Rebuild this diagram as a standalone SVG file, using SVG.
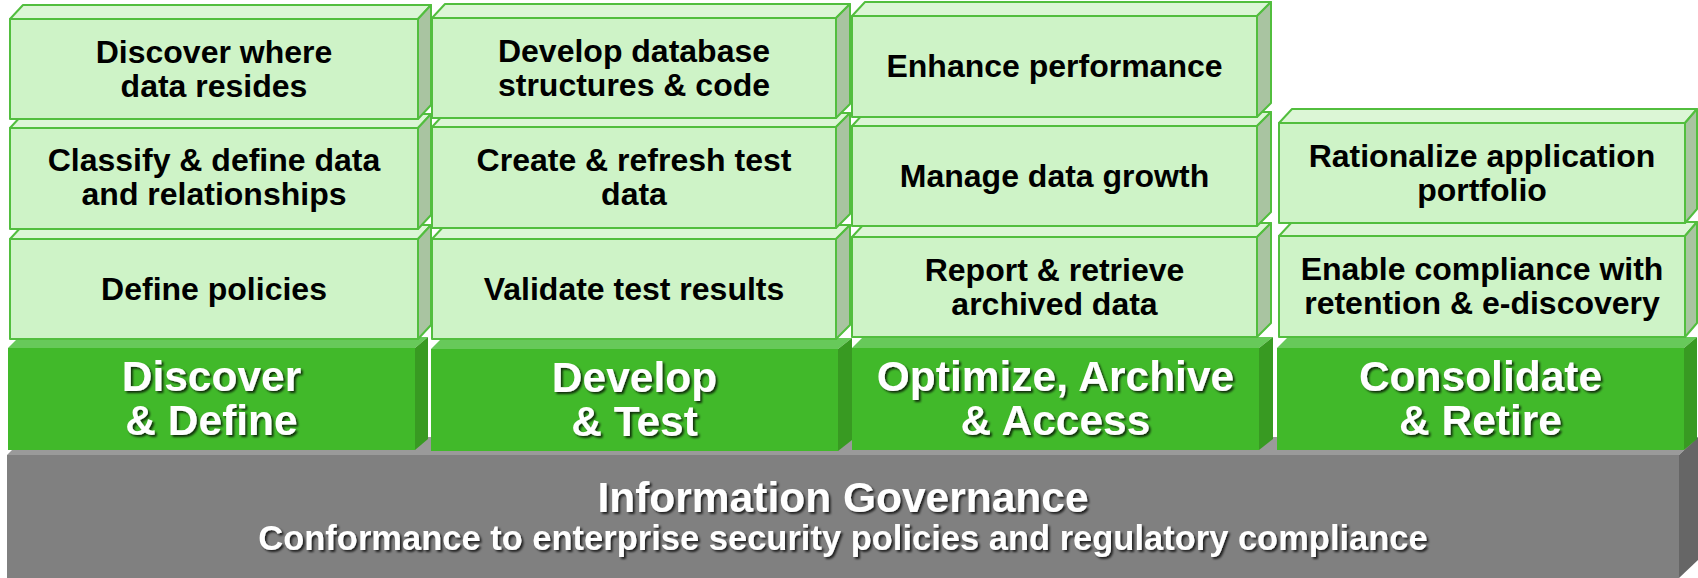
<svg xmlns="http://www.w3.org/2000/svg" width="1698" height="578" viewBox="0 0 1698 578">
<defs>
<filter id="sh" x="-5%" y="-30%" width="112%" height="170%">
<feDropShadow dx="2" dy="2" stdDeviation="1.2" flood-color="#000" flood-opacity="0.75"/>
</filter>
<style>
.lf{fill:#cef3c7;stroke:#52be3e;stroke-width:2;stroke-linejoin:round}
.lt{fill:#dcf6d6;stroke:#52be3e;stroke-width:2;stroke-linejoin:round}
.ls{fill:#a9c4a1;stroke:#52be3e;stroke-width:2;stroke-linejoin:round}
.gf{fill:#41b92a}
.gt{fill:#67c95a}
.gs{fill:#389a22}
.bf{fill:#808080}
.bt{fill:#9a9a9a}
.bs{fill:#666666}
.t{font-family:"Liberation Sans",Arial,sans-serif;font-weight:bold;font-size:32px;fill:#000;text-anchor:middle}
.h{font-family:"Liberation Sans",Arial,sans-serif;font-weight:bold;font-size:42.5px;fill:#fff;text-anchor:middle;filter:url(#sh)}
.s{font-family:"Liberation Sans",Arial,sans-serif;font-weight:bold;font-size:34.5px;fill:#fff;text-anchor:middle;filter:url(#sh)}
</style>
</defs>
<rect width="1698" height="578" fill="#fff"/>

<g id="base">
<polygon class="bt" points="7,455 25,437 1698,437 1679,455"/>
<polygon class="bs" points="1679,455 1698,437 1698,560 1679,578"/>
<rect class="bf" x="7" y="455" width="1672" height="123"/>
<text class="h" x="843" y="512" font-size="43.5">Information Governance</text>
<text class="s" x="843" y="550">Conformance to enterprise security policies and regulatory compliance</text>
</g>

<g id="col1">
<g id="discover-define">
<polygon class="gt" points="8,348 19,337 428,337 415,348"/>
<polygon class="gs" points="415,348 428,337 428,439 415,450"/>
<rect class="gf" x="8" y="348" width="407" height="102"/>
<text class="h" x="211.5" y="391">Discover</text>
<text class="h" x="211.5" y="435">&amp; Define</text>
</g>
<g id="define-policies">
<polygon class="lt" points="10,239 23,225 431,225 418,239"/>
<polygon class="ls" points="418,239 431,225 431,325 418,339"/>
<rect class="lf" x="10" y="239" width="408" height="100"/>
<text class="t" x="214" y="299.5">Define policies</text>
</g>
<g id="classify">
<polygon class="lt" points="10,128 23,114 431,114 418,128"/>
<polygon class="ls" points="418,128 431,114 431,215 418,229"/>
<rect class="lf" x="10" y="128" width="408" height="101"/>
<text class="t" x="214" y="171">Classify &amp; define data</text>
<text class="t" x="214" y="205">and relationships</text>
</g>
<g id="discover-where">
<polygon class="lt" points="10,19 23,5 431,5 418,19"/>
<polygon class="ls" points="418,19 431,5 431,105 418,119"/>
<rect class="lf" x="10" y="19" width="408" height="100"/>
<text class="t" x="214" y="62.5">Discover where</text>
<text class="t" x="214" y="96.5">data resides</text>
</g>
</g>

<g id="col2">
<g id="develop-test">
<polygon class="gt" points="431,349 442,338 852,338 838,349"/>
<polygon class="gs" points="838,349 852,338 852,440 838,451"/>
<rect class="gf" x="431" y="349" width="407" height="102"/>
<text class="h" x="634.5" y="392">Develop</text>
<text class="h" x="634.5" y="436">&amp; Test</text>
</g>
<g id="validate">
<polygon class="lt" points="432,239 445,225 850,225 836,239"/>
<polygon class="ls" points="836,239 850,225 850,325 836,339"/>
<rect class="lf" x="432" y="239" width="404" height="100"/>
<text class="t" x="634" y="299.5">Validate test results</text>
</g>
<g id="create-refresh">
<polygon class="lt" points="432,127 445,113 850,113 836,127"/>
<polygon class="ls" points="836,127 850,113 850,214 836,228"/>
<rect class="lf" x="432" y="127" width="404" height="101"/>
<text class="t" x="634" y="171">Create &amp; refresh test</text>
<text class="t" x="634" y="205">data</text>
</g>
<g id="develop-db">
<polygon class="lt" points="432,18 445,4 850,4 836,18"/>
<polygon class="ls" points="836,18 850,4 850,104 836,118"/>
<rect class="lf" x="432" y="18" width="404" height="100"/>
<text class="t" x="634" y="61.5">Develop database</text>
<text class="t" x="634" y="95.5">structures &amp; code</text>
</g>
</g>

<g id="col3">
<g id="optimize">
<polygon class="gt" points="852,348 863,337 1273,337 1259,348"/>
<polygon class="gs" points="1259,348 1273,337 1273,439 1259,450"/>
<rect class="gf" x="852" y="348" width="407" height="102"/>
<text class="h" x="1055.5" y="391">Optimize, Archive</text>
<text class="h" x="1055.5" y="435">&amp; Access</text>
</g>
<g id="report">
<polygon class="lt" points="852,237 865,223 1271,223 1257,237"/>
<polygon class="ls" points="1257,237 1271,223 1271,323 1257,337"/>
<rect class="lf" x="852" y="237" width="405" height="100"/>
<text class="t" x="1054.5" y="280.5">Report &amp; retrieve</text>
<text class="t" x="1054.5" y="314.5">archived data</text>
</g>
<g id="manage">
<polygon class="lt" points="852,126 865,112 1271,112 1257,126"/>
<polygon class="ls" points="1257,126 1271,112 1271,212 1257,226"/>
<rect class="lf" x="852" y="126" width="405" height="100"/>
<text class="t" x="1054.5" y="186.5">Manage data growth</text>
</g>
<g id="enhance">
<polygon class="lt" points="852,16 865,2 1271,2 1257,16"/>
<polygon class="ls" points="1257,16 1271,2 1271,103 1257,117"/>
<rect class="lf" x="852" y="16" width="405" height="101"/>
<text class="t" x="1054.5" y="77">Enhance performance</text>
</g>
</g>

<g id="col4">
<g id="consolidate">
<polygon class="gt" points="1277,348 1288,337 1697,337 1684,348"/>
<polygon class="gs" points="1684,348 1697,337 1697,439 1684,450"/>
<rect class="gf" x="1277" y="348" width="407" height="102"/>
<text class="h" x="1480.5" y="391">Consolidate</text>
<text class="h" x="1480.5" y="435">&amp; Retire</text>
</g>
<g id="enable">
<polygon class="lt" points="1279,236 1292,222 1697,222 1685,236"/>
<polygon class="ls" points="1685,236 1697,222 1697,323 1685,337"/>
<rect class="lf" x="1279" y="236" width="406" height="101"/>
<text class="t" x="1482" y="280">Enable compliance with</text>
<text class="t" x="1482" y="314">retention &amp; e-discovery</text>
</g>
<g id="rationalize">
<polygon class="lt" points="1279,123 1292,109 1697,109 1685,123"/>
<polygon class="ls" points="1685,123 1697,109 1697,209 1685,223"/>
<rect class="lf" x="1279" y="123" width="406" height="100"/>
<text class="t" x="1482" y="166.5">Rationalize application</text>
<text class="t" x="1482" y="200.5">portfolio</text>
</g>
</g>

<g id="connectors"/>
</svg>
